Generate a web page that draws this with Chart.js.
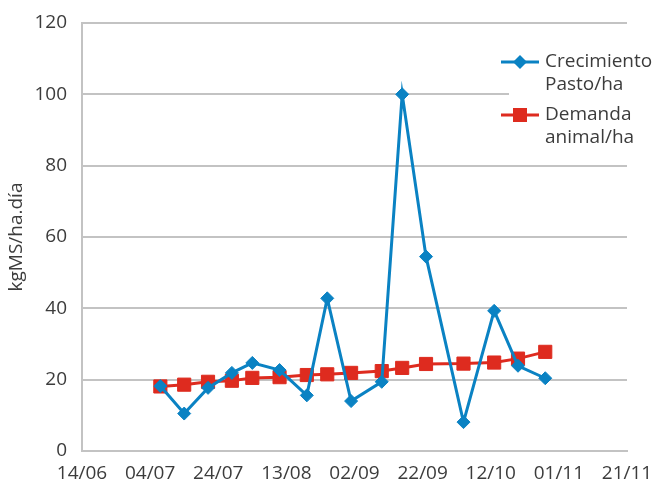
<!DOCTYPE html>
<html>
<head>
<meta charset="utf-8">
<script src="https://cdn.jsdelivr.net/npm/chart.js@4.4.1/dist/chart.umd.min.js"></script>
<style>
  html, body { margin: 0; padding: 0; background: #ffffff; }
  #wrap { width: 653px; height: 482px; position: relative; }
</style>
</head>
<body>
<div id="wrap"><canvas id="grafico"></canvas></div>
<script>
// Fechas de medición (dd/mm)
const fechas = ['07/07', '14/07', '21/07', '28/07', '03/08', '11/08', '19/08', '25/08',
                '01/09', '10/09', '16/09', '23/09', '04/10', '13/10', '20/10', '28/10'];
// Tasa de crecimiento del pasto (kgMS/ha.día)
const crecimiento = [18.2, 10.5, 17.7, 21.9, 24.7, 22.7, 15.6, 42.8,
                     14.0, 19.4, 100, 54.5, 8.1, 39.3, 23.9, 20.4];
// Demanda animal (kgMS/ha.día)
const demanda = [18.1, 18.6, 19.4, 19.7, 20.5, 20.7, 21.3, 21.5,
                 21.9, 22.4, 23.3, 24.4, 24.5, 24.8, 25.9, 27.8];
// Etiquetas del eje de fechas (cada 20 días)
const etiquetasEje = ['14/06', '04/07', '24/07', '13/08', '02/09', '22/09', '12/10', '01/11', '21/11'];
// Nombres de las series y su texto en la leyenda
const nombresSeries = ['Crecimiento Pasto/ha', 'Demanda animal/ha'];
const lineasLeyenda = [['Crecimiento', 'Pasto/ha'], ['Demanda', 'animal/ha']];
const tituloY = 'kgMS/ha.día';

const AZUL = '#0a82c3';
const ROJO = '#de2b1f';
const GRIS = '#c3c3c3';
const TEXTO = '#3c3c3c';
const FUENTE = "'Open Sans', 'Noto Sans', sans-serif";
const TAM = 19;

// Día juliano simple para convertir dd/mm en posición sobre el eje
function diaNum(s) {
  const [d, m] = s.split('/').map(Number);
  return Date.UTC(2015, m - 1, d) / 86400000;
}
const origen = diaNum(etiquetasEje[0]);
const aX = s => diaNum(s) - origen;

const puntos = serie => fechas.map((f, i) => ({ x: aX(f), y: serie[i] }));

// Leyenda dibujada sobre el área de trazado, a la derecha
const leyendaLateral = {
  id: 'leyendaLateral',
  afterDatasetsDraw(chart) {
    const ctx = chart.ctx;
    ctx.save();
    ctx.fillStyle = '#ffffff';
    ctx.fillRect(509, 46, 144, 104);
    const estilos = [
      { color: AZUL, forma: 'rombo', y: 62 },
      { color: ROJO, forma: 'cuadro', y: 115 }
    ];
    estilos.forEach((e, k) => {
      ctx.strokeStyle = e.color;
      ctx.lineWidth = 3;
      ctx.beginPath();
      ctx.moveTo(501, e.y);
      ctx.lineTo(539, e.y);
      ctx.stroke();
      ctx.fillStyle = e.color;
      ctx.beginPath();
      if (e.forma === 'rombo') {
        const r = 7;
        ctx.moveTo(520 - r, e.y);
        ctx.lineTo(520, e.y - r);
        ctx.lineTo(520 + r, e.y);
        ctx.lineTo(520, e.y + r);
        ctx.closePath();
      } else {
        ctx.rect(520 - 7, e.y - 7, 14, 14);
      }
      ctx.fill();
      ctx.fillStyle = TEXTO;
      ctx.font = TAM + 'px ' + FUENTE;
      ctx.textBaseline = 'middle';
      ctx.textAlign = 'left';
      lineasLeyenda[k].forEach((t, j) => {
        ctx.fillText(t, 545, e.y + j * 23);
      });
    });
    ctx.restore();
  }
};

new Chart(document.getElementById('grafico'), {
  type: 'line',
  data: {
    datasets: [
      {
        label: nombresSeries[0],
        data: puntos(crecimiento),
        borderColor: AZUL,
        backgroundColor: AZUL,
        borderWidth: 3,
        pointStyle: 'rectRot',
        pointRadius: 6.5,
        pointBorderWidth: 1,
        pointBackgroundColor: AZUL,
        pointBorderColor: AZUL,
        tension: 0,
        borderJoinStyle: 'miter'
      },
      {
        label: nombresSeries[1],
        data: puntos(demanda),
        borderColor: ROJO,
        backgroundColor: ROJO,
        borderWidth: 3,
        pointStyle: 'rect',
        pointRadius: 9.3,
        pointBorderWidth: 1,
        pointBackgroundColor: ROJO,
        pointBorderColor: ROJO,
        tension: 0
      }
    ]
  },
  options: {
    responsive: true,
    maintainAspectRatio: false,
    animation: false,
    layout: { padding: { top: 23, right: 26, left: 0, bottom: 0 } },
    plugins: {
      legend: { display: false },
      tooltip: { enabled: false }
    },
    scales: {
      x: {
        type: 'linear',
        min: 0,
        max: aX(etiquetasEje[etiquetasEje.length - 1]),
        afterBuildTicks: s => { s.ticks = etiquetasEje.map(e => ({ value: aX(e) })); },
        afterFit: s => {
          s.height = 31;
          s.paddingLeft = 0;
          s.paddingRight = 0;
        },
        grid: { display: false, drawTicks: false },
        border: { display: true, color: GRIS, width: 2 },
        ticks: {
          autoSkip: false,
          maxRotation: 0,
          padding: 11,
          color: TEXTO,
          font: { family: FUENTE, size: TAM },
          callback: (v, i) => etiquetasEje[i]
        }
      },
      y: {
        min: 0,
        max: 120,
        afterFit: s => {
          s.width = 82;
          s.paddingTop = 0;
          s.paddingBottom = 0;
        },
        grid: { color: GRIS, lineWidth: 2, drawTicks: false },
        border: { display: true, color: GRIS, width: 2 },
        ticks: {
          stepSize: 20,
          padding: 15,
          color: TEXTO,
          font: { family: FUENTE, size: TAM }
        },
        title: {
          display: true,
          text: tituloY,
          color: TEXTO,
          font: { family: FUENTE, size: TAM },
          padding: { top: 5, bottom: 0 }
        }
      }
    }
  },
  plugins: [leyendaLateral]
});
</script>
</body>
</html>
